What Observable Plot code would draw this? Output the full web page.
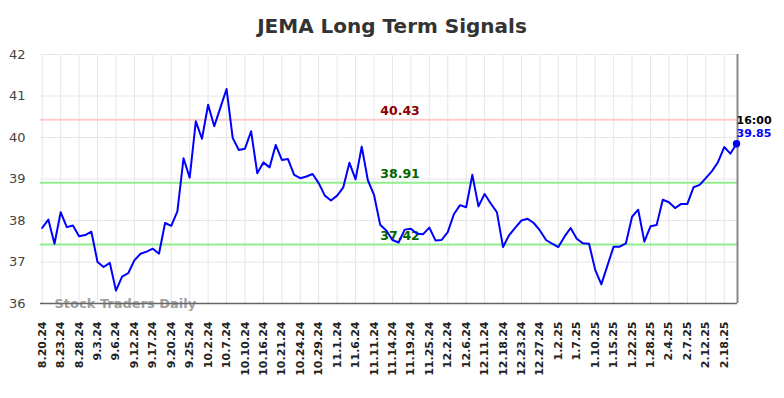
<!DOCTYPE html>
<html><head><meta charset="utf-8">
<script src="https://cdn.jsdelivr.net/npm/d3@7"></script>
<script src="https://cdn.jsdelivr.net/npm/@observablehq/plot@0.6"></script>
<style>
body{margin:0;background:#fff;}
#wrap{position:relative;width:784px;height:398px;}
#title{position:absolute;left:0;top:14px;width:784px;text-align:center;font:bold 20px "DejaVu Sans";color:#333;}
#chart{position:absolute;left:0;top:0;}
#chart g[aria-label="x-axis tick label"] text{font-weight:bold;}
</style></head><body>
<div id="wrap"><div id="chart"></div><div id="title">JEMA Long Term Signals</div></div>
<script>
const tickLabels = ["8.20.24","8.23.24","8.28.24","9.3.24","9.6.24","9.12.24","9.17.24","9.20.24","9.25.24","10.2.24","10.7.24","10.10.24","10.16.24","10.21.24","10.24.24","10.29.24","11.1.24","11.6.24","11.11.24","11.14.24","11.19.24","11.25.24","12.2.24","12.6.24","12.11.24","12.18.24","12.23.24","12.27.24","1.2.25","1.7.25","1.10.25","1.15.25","1.22.25","1.28.25","2.4.25","2.7.25","2.12.25","2.18.25"];
const tickEvery = 3;
const prices = [37.82,38.02,37.44,38.20,37.84,37.88,37.62,37.65,37.73,37.00,
36.88,36.98,36.31,36.65,36.73,37.04,37.20,37.25,37.32,37.20,
37.94,37.87,38.22,39.50,39.03,40.39,39.97,40.79,40.27,40.72,
41.17,39.99,39.70,39.73,40.15,39.14,39.40,39.28,39.82,39.46,
39.48,39.10,39.02,39.06,39.12,38.90,38.60,38.48,38.60,38.80,
39.39,38.99,39.78,38.97,38.62,37.90,37.76,37.53,37.47,37.78,
37.80,37.68,37.67,37.83,37.52,37.53,37.72,38.15,38.37,38.32,
39.10,38.34,38.64,38.41,38.20,37.36,37.65,37.83,38.00,38.04,
37.94,37.76,37.53,37.44,37.36,37.61,37.82,37.56,37.45,37.44,
36.81,36.46,36.92,37.37,37.37,37.45,38.09,38.26,37.49,37.86,
37.89,38.50,38.44,38.30,38.40,38.40,38.80,38.86,39.02,39.19,
39.41,39.77,39.61,39.85];
const resistance = [40.43];
const supports = [38.91, 37.42];
const yTicks = [36,37,38,39,40,41,42];
const lastTime = "16:00";
const watermark = "Stock Traders Daily";

const data = prices.map((v,i)=>({i, v}));
const lastIdx = prices.length - 1;
const last = [{i:lastIdx, v:prices[lastIdx]}];
const tickIdx = tickLabels.map((_,k)=>k*tickEvery);
const levels = [
  ...resistance.map(v=>({v, c:"#8b0000", line:"#ffcccc"})),
  ...supports.map(v=>({v, c:"#006400", line:"#90ee90"}))
];

const chart = Plot.plot({
  width: 784, height: 398,
  marginTop: 54, marginBottom: 95, marginLeft: 40, marginRight: 47,
  style: {fontFamily: "DejaVu Sans", fontSize: "12px", color: "#333", background: "transparent"},
  x: {domain: [-0.28, lastIdx + 0.16], label: null},
  y: {domain: [36, 42], label: null},
  marks: [
    Plot.gridY(yTicks, {stroke: "#e6e6e6", strokeOpacity: 1, strokeWidth: 1}),
    Plot.gridX(tickIdx, {stroke: "#e6e6e6", strokeOpacity: 1, strokeWidth: 1}),
    Plot.ruleY(levels, {y: "v", stroke: "line", strokeWidth: 2}),
    Plot.text(levels, {y: "v", text: d=>d.v.toFixed(2), fill: "c", frameAnchor: "middle", dx: 11, dy: -8.5, fontSize: 12.5, fontWeight: "bold"}),
    Plot.text([watermark], {frameAnchor: "bottom-left", text: d=>d, dx: 14, fill: "#a0a0a0", fontSize: 13, fontWeight: "bold", textAnchor: "start", lineAnchor: "middle"}),
    Plot.ruleY([36], {stroke: "#666", strokeWidth: 1.5}),
    Plot.ruleX([lastIdx + 0.16], {stroke: "#888", strokeWidth: 2}),
    Plot.lineY(data, {x: "i", y: "v", stroke: "#0000ff", strokeWidth: 2}),
    Plot.dot(last, {x: "i", y: "v", r: 3.7, fill: "#0000ff"}),
    Plot.text(last, {x: "i", y: "v", text: ()=>lastTime, textAnchor: "start", dx: 0, dy: -23.5, fill: "#000", fontSize: 11, fontWeight: "bold"}),
    Plot.text(last, {x: "i", y: "v", text: d=>d.v.toFixed(2), textAnchor: "start", dx: 0, dy: -10, fill: "#0000ff", fontSize: 11, fontWeight: "bold"}),
    Plot.axisY(yTicks, {tickSize: 0, tickPadding: 15, fontSize: 13, fill: "#444", label: null}),
    Plot.axisX(tickIdx, {tickFormat: i=>tickLabels[i/tickEvery], tickRotate: -90, tickSize: 0, tickPadding: 18, fontSize: 11, fill: "#222", fontWeight: "bold", label: null})
  ]
});
document.getElementById("chart").appendChild(chart);
</script>
</body></html>
